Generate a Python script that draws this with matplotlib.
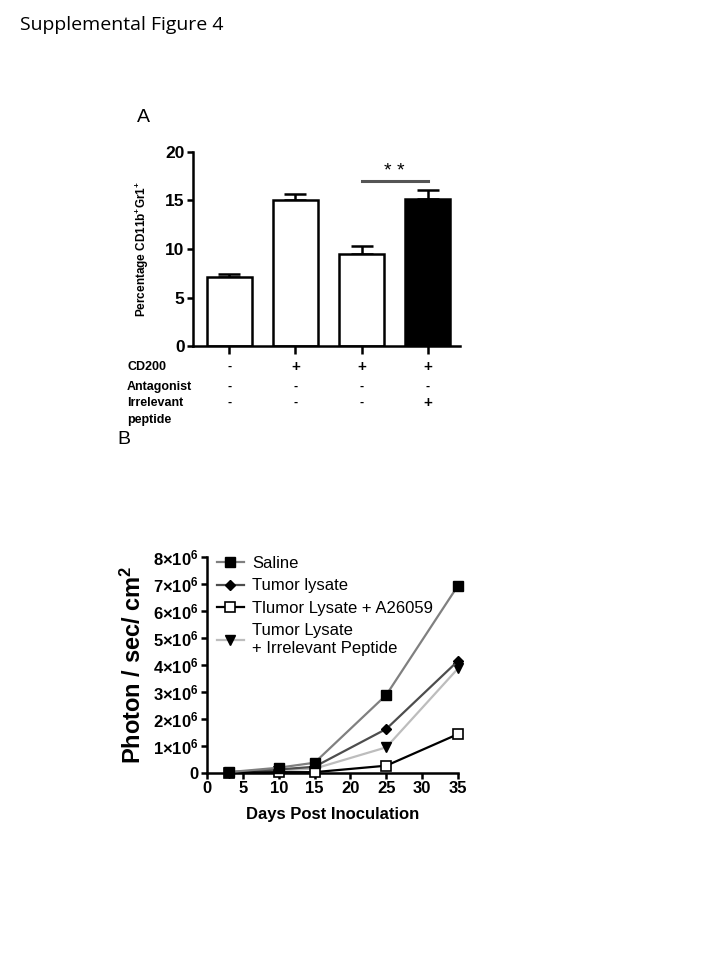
"""Supplemental Figure 4: CD11b+Gr1+ bars (A) and tumour photon flux over time (B)."""

import matplotlib
matplotlib.use('Agg')
import matplotlib.pyplot as plt
from matplotlib.transforms import blended_transform_factory

plt.rcParams['font.family'] = ['Liberation Sans', 'DejaVu Sans']
plt.rcParams['mathtext.fontset'] = 'custom'
plt.rcParams['mathtext.rm'] = 'Liberation Sans:bold'
plt.rcParams['mathtext.default'] = 'rm'

# Panel A data
groups = ['1', '2', '3', '4']
pct_mean = [7.1, 15.0, 9.5, 15.15]
pct_err = [0.3, 0.65, 0.8, 0.9]
bar_fill = ['white', 'white', 'white', 'black']
row_names = ['CD200', 'Antagonist', 'Irrelevant\npeptide']
row_signs = [['-', '+', '+', '+'],
             ['-', '-', '-', '-'],
             ['-', '-', '-', '+']]

# Panel B data
days = [3, 10, 15, 25, 35]
saline = [0.02e6, 0.185e6, 0.37e6, 2.88e6, 6.93e6]
tumor_lysate = [0.02e6, 0.12e6, 0.22e6, 1.62e6, 4.14e6]
lysate_a26059 = [0.0, 0.02e6, 0.02e6, 0.26e6, 1.43e6]
lysate_irrelevant = [0.0, 0.08e6, 0.15e6, 0.94e6, 3.86e6]
y_ticks_b = [0, 1, 2, 3, 4, 5, 6, 7, 8]


def style_axes(ax):
    for side in ['top', 'right']:
        ax.spines[side].set_visible(False)
    for side in ['left', 'bottom']:
        ax.spines[side].set_linewidth(1.8)
    ax.tick_params(width=1.8, length=4, pad=2)


def main():
    fig = plt.figure(figsize=(7.2, 9.6), dpi=100)
    fig.text(20 / 720, 1 - 25 / 960, 'Supplemental Figure 4', fontsize=14,
             family='Open Sans', va='center', ha='left')
    fig.text(137 / 720, 1 - 118 / 960, 'A', fontsize=14, va='center', ha='left')
    fig.text(117 / 720, 1 - 440 / 960, 'B', fontsize=14, va='center', ha='left')

    # Panel A
    ax = fig.add_axes([193 / 720, 1 - 346 / 960, 267 / 720, 194 / 960])
    x_pos = list(range(len(groups)))
    ax.errorbar(x_pos, pct_mean, yerr=[[0] * len(pct_err), pct_err], fmt='none',
                ecolor='black', elinewidth=1.8, capsize=8, capthick=1.8, zorder=1)
    ax.bar(x_pos, pct_mean, width=0.69, color=bar_fill, edgecolor='black',
           linewidth=1.8, zorder=2)
    ax.set_xlim(-0.55, 3.49)
    ax.set_ylim(0, 20)
    ax.set_yticks([0, 5, 10, 15, 20])
    ax.set_xticks(x_pos)
    ax.set_xticklabels([])
    style_axes(ax)
    ax.tick_params(axis='x', length=6)
    ax.tick_params(axis='y', labelsize=12.5)
    for lab in ax.get_yticklabels():
        lab.set_fontweight('bold')
    ax.set_ylabel(r'Percentage CD11b$^{+}$Gr1$^{+}$', fontsize=8.5,
                  fontweight='bold', labelpad=10)
    ax.plot([2, 3], [17.0, 17.0], color='#555555', lw=2.2, clip_on=False)
    ax.text(2.5, 17.1, '* *', ha='center', va='bottom', fontsize=14)

    tr = blended_transform_factory(ax.transData, fig.transFigure)
    row_y = [366.7, 386.7, 411.5]
    for name, signs, y in zip(row_names, row_signs, row_y):
        fig.text(127 / 720, 1 - y / 960, name, fontsize=9, fontweight='bold',
                 va='center', ha='left', linespacing=1.45)
        sy = 1 - (y if '\n' not in name else 403) / 960
        for xi, s in zip(x_pos, signs):
            ax.text(xi, sy, s, transform=tr, ha='center', va='center',
                    fontsize=11 if s == '+' else 9, fontweight='bold')

    # Panel B
    bx = fig.add_axes([207 / 720, 1 - 772.7 / 960, 251 / 720, 216 / 960])
    bx.plot(days, saline, color='#808080', lw=1.6, marker='s', ms=7,
            mfc='black', mec='black', label='Saline', clip_on=False, zorder=4)
    bx.plot(days, tumor_lysate, color='#4d4d4d', lw=1.6, marker='D', ms=5,
            mfc='black', mec='black', label='Tumor lysate', clip_on=False, zorder=3)
    bx.plot(days, lysate_a26059, color='black', lw=1.6, marker='s', ms=7,
            mfc='white', mec='black', mew=1.2, label='Tlumor Lysate + A26059',
            clip_on=False, zorder=3)
    bx.plot(days, lysate_irrelevant, color='#bdbdbd', lw=1.6, marker='v', ms=7,
            mfc='black', mec='black', label='Tumor Lysate\n+ Irrelevant Peptide',
            clip_on=False, zorder=2)
    bx.set_xlim(0, 35)
    bx.set_ylim(0, 8e6)
    bx.set_xticks(range(0, 36, 5))
    bx.set_yticks([v * 1e6 for v in y_ticks_b])
    bx.set_yticklabels(['0'] + [f'{v}×10$^{{6}}$' for v in y_ticks_b[1:]])
    style_axes(bx)
    bx.tick_params(labelsize=12)
    for lab in bx.get_xticklabels() + bx.get_yticklabels():
        lab.set_fontweight('bold')
    bx.set_xlabel('Days Post Inoculation', fontsize=12, fontweight='bold', labelpad=8)
    bx.set_ylabel('Photon / sec/ cm$^{2}$', fontsize=17, fontweight='bold', labelpad=5)
    bx.legend(loc='upper left', bbox_to_anchor=(0.0, 1.05), frameon=False,
              fontsize=12, handlelength=1.6, handletextpad=0.5,
              labelspacing=0.45, borderaxespad=0.2)

    fig.savefig('out.png', dpi=100)


if __name__ == '__main__':
    main()
